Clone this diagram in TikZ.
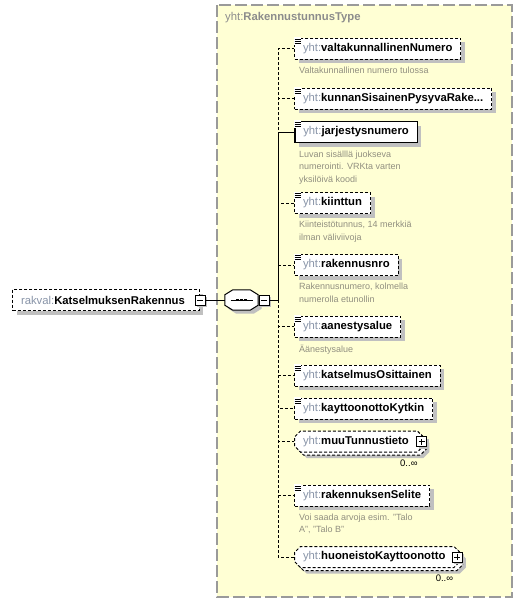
\documentclass[tikz,border=0pt]{standalone}
\usepackage{fontspec}
\setmainfont{Liberation Sans}
\usepackage{tikz}
\usetikzlibrary{positioning,shapes.misc,shadows}
\usepackage{xcolor}
\definecolor{typefill}{HTML}{FFFFD4}
\definecolor{typeedge}{HTML}{9A9A9A}
\definecolor{boxshadow}{HTML}{C0C0C0}
\definecolor{prefix}{HTML}{8894A8}
\definecolor{doctext}{HTML}{918F80}
\definecolor{titlec}{HTML}{8C8C8C}

\newcommand{\yht}[1]{\textcolor{prefix}{yht:}\textbf{#1}}
\newcommand{\docicon}[1]{%
	\fill[white] ([shift={(-0.5,-0.5)}]#1.north west) rectangle ++(7.5,7.5);
	\foreach \k in {1.7,3.7,5.7} \draw[line width=1pt] ([shift={(0.5,\k)}]#1.north west) -- ++(6,0);
}
\newcommand{\octpath}[1]{([xshift=8pt]#1.north west) -- ([xshift=-8pt]#1.north east) -- ([yshift=-5pt]#1.north east) -- ([yshift=5pt]#1.south east) -- ([xshift=-8pt]#1.south east) -- ([xshift=8pt]#1.south west) -- ([yshift=5pt]#1.south west) -- ([yshift=-5pt]#1.north west) -- cycle}

\tikzset{
	boxshade/.style={preaction={draw=none, fill=boxshadow, transform canvas={shift={(#1pt,-#1pt)}}}},
	box/.style={draw, fill=white, line width=1pt, dash pattern=on 3pt off 2pt, anchor=west, minimum height=21pt, inner xsep=8.5pt, inner ysep=0pt, font=\fontsize{11.3}{13}\selectfont},
	elem/.style={box, boxshade=4},
	reqelem/.style={elem, solid, line width=1.6pt},
	cplxelem/.style={box, chamfered rectangle, chamfered rectangle xsep=2.5pt, inner xsep=6pt, boxshade=6,
		general shadow={shadow xshift=3pt, shadow yshift=-3pt, draw, fill=white, line width=1pt, dash pattern=on 3pt off 2pt}},
	doc/.style={anchor=north west, inner sep=0pt, align=left, text=doctext, font=\fontsize{9}{12.5}\selectfont},
	mult/.style={inner sep=0pt, font=\fontsize{9.5}{11}\selectfont},
	link/.style={line width=1pt},
	optlink/.style={link, dash pattern=on 3pt off 2pt},
	minusbox/.style={draw, fill=white, minimum size=10pt, inner sep=0pt, line width=0.8pt, boxshade=2,
		path picture={\draw ([xshift=2pt]path picture bounding box.west) -- ([xshift=-2pt]path picture bounding box.east);}},
	plusbox/.style={minusbox,
		path picture={\draw ([xshift=2pt]path picture bounding box.west) -- ([xshift=-2pt]path picture bounding box.east);
			\draw ([yshift=2pt]path picture bounding box.south) -- ([yshift=-2pt]path picture bounding box.north);}},
	seqbox/.style={minimum width=33pt, minimum height=20pt, inner sep=0pt},
}

\begin{document}
\begin{tikzpicture}[x=1pt, y=-1pt]
	\path[use as bounding box, fill=white] (0,0) rectangle (523,603);
	%
	% type
	\draw[fill=typefill, draw=typeedge, line width=1.4pt, dash pattern=on 12pt off 4pt] (217,5) rectangle (512,597);
	\node[anchor=west, inner sep=0pt, text=titlec, font=\fontsize{11.3}{13}\selectfont] (T) at (225,18) {yht:\textbf{RakennustunnusType}};
	%
	% root and sequence
	\node[elem] (R) at (12,300) {\textcolor{prefix}{rakval:}\textbf{KatselmuksenRakennus}\hspace*{6pt}};
	\node[minusbox] (RM) at (R.east) {};
	\node[seqbox] (Q) at (241.5,300) {};
	\draw[fill=white, line width=1pt, boxshade=3.5] \octpath{Q};
	\node[minusbox, right=0.5pt of Q] (QM) {};
	\draw[line width=1pt] ([xshift=-11pt]Q.center) -- ([xshift=11pt]Q.center);
	\foreach \dx in {-4,0,4}
		\fill ([xshift=\dx pt]Q.center) +(-1.4,-1.4) rectangle +(1.4,1.4);
	\coordinate (J) at (278.3,300);
	%
	% children
	\node[elem] (E1) at (294,48.5) {\yht{valtakunnallinenNumero}};
	\node[elem] (E2) at (294,98.5) {\yht{kunnanSisainenPysyvaRake...}};
	\node[reqelem] (E3) at (294,132) {\yht{jarjestysnumero}};
	\node[elem] (E4) at (294,203) {\yht{kiinttun}};
	\node[elem] (E5) at (294,265) {\yht{rakennusnro}};
	\node[elem] (E6) at (294,326.5) {\yht{aanestysalue}};
	\node[elem] (E7) at (294,375.5) {\yht{katselmusOsittainen}};
	\node[elem] (E8) at (294,408.5) {\yht{kayttoonottoKytkin}};
	\node[cplxelem] (E9) at (294,441.5) {\yht{muuTunnustieto}\hspace*{6pt}};
	\node[elem] (E10) at (294,495.5) {\yht{rakennuksenSelite}};
	\node[cplxelem] (E11) at (294,557) {\yht{huoneistoKayttoonotto}\hspace*{6pt}};
	%
	\foreach \e in {E1,E2,E3,E4,E5,E6,E7,E8,E10} {\docicon{\e}}
	\node[plusbox] (E9p) at ([xshift=-2pt]E9.east) {};
	\node[plusbox] (E11p) at ([xshift=-3pt]E11.east) {};
	\node[mult, anchor=north east] (M9) at ([shift={(-3,10)}]E9.south east) {0..∞};
	\node[mult, anchor=north east] (M11) at ([shift={(-4,10)}]E11.south east) {0..∞};
	%
	% documentation
	\node[doc, below right=7pt and 5pt of E1.south west] (D1) {Valtakunnallinen numero tulossa};
	\node[doc, below right=7pt and 5pt of E3.south west] (D3) {Luvan sisälllä juokseva\\numerointi. VRKta varten\\yksilöivä koodi};
	\node[doc, below right=7pt and 5pt of E4.south west] (D4) {Kiinteistötunnus, 14 merkkiä\\ilman väliviivoja};
	\node[doc, below right=7pt and 5pt of E5.south west] (D5) {Rakennusnumero, kolmella\\numerolla etunollin};
	\node[doc, below right=7pt and 5pt of E6.south west] (D6) {Äänestysalue};
	\node[doc, below right=7pt and 5pt of E10.south west] (D10) {Voi saada arvoja esim. "Talo\\A", "Talo B"};
	%
	% links
	\draw[link] (RM.east) -- (Q.west);
	\draw[link] (QM.east) -- (J);
	\foreach \e in {E1,E2,E4,E5,E6,E7,E8,E9,E10,E11}
		\draw[optlink] (J) |- (\e.west);
	\draw[link] (J) |- (E3.west);
\end{tikzpicture}
\end{document}
